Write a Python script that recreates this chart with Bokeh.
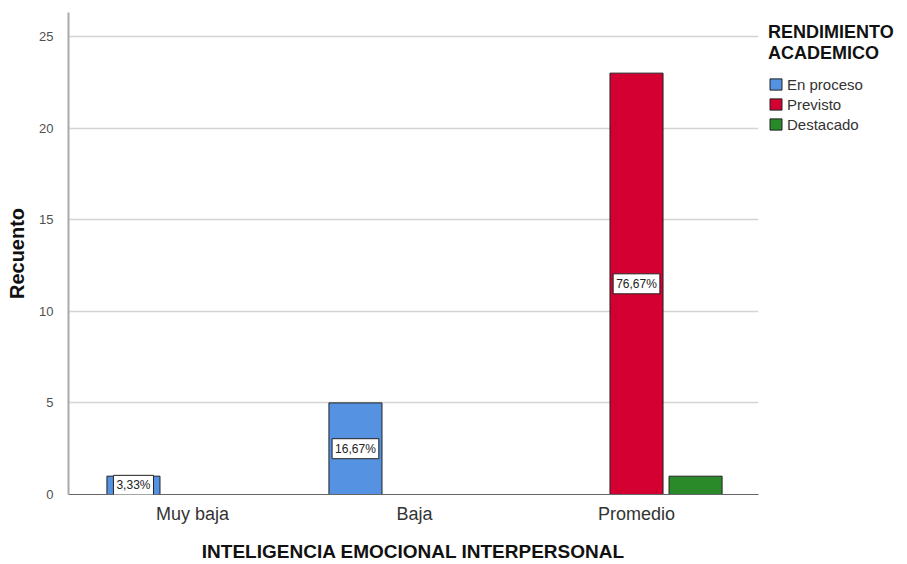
from bokeh.plotting import figure
from bokeh.models import ColumnDataSource, Legend, LegendItem, Label, Range1d, FixedTicker
from bokeh.transform import dodge
from bokeh.embed import file_html
from bokeh.resources import INLINE

categories = ["Muy baja", "Baja", "Promedio"]
series_names = ["En proceso", "Previsto", "Destacado"]
en_proceso = [1, 5, 0]
previsto = [0, 0, 23]
destacado = [0, 0, 1]
en_proceso_pct = ["3,33%", "16,67%", ""]
previsto_pct = ["", "", "76,67%"]
destacado_pct = ["", "", ""]
y_ticks = [0, 5, 10, 15, 20, 25]
legend_title = "RENDIMIENTO\nACADEMICO"

colors = ["#5593e2", "#d50032", "#2a8a2a"]
FONT = "Liberation Sans"

p = figure(frame_width=690, frame_height=482, output_backend="svg", toolbar_location=None,
           x_range=Range1d(-0.5586, 2.5495), y_range=Range1d(0, 26.31),
           min_border_left=68, min_border_right=10, min_border_top=12, min_border_bottom=10)
p.outline_line_color = None
p.background_fill_color = "white"

offsets = [-0.266, 0.0, 0.266]
vals = [en_proceso, previsto, destacado]
pcts = [en_proceso_pct, previsto_pct, destacado_pct]
renderers = []
for name, v, pc, off, col in zip(series_names, vals, pcts, offsets, colors):
    xs = [i for i, val in enumerate(v) if val > 0]
    ys = [val for val in v if val > 0]
    src = ColumnDataSource(dict(x=xs, top=ys))
    r = p.vbar(x=dodge("x", off), top="top", width=0.239, source=src,
               fill_color=col, line_color="#222222", line_width=1)
    renderers.append(r)
    for i, val in zip(xs, ys):
        if pc[i]:
            p.add_layout(Label(x=i + off, y=val / 2, text=pc[i],
                               text_align="center", text_baseline="middle",
                               text_font=FONT, text_font_size="12px", text_color="#222222",
                               background_fill_color="white", border_line_color="#222222",
                               border_line_width=1, padding=3))

# axes
p.yaxis.ticker = FixedTicker(ticks=y_ticks)
p.yaxis.axis_label = "Recuento"
p.yaxis.axis_label_text_font = FONT
p.yaxis.axis_label_text_font_style = "bold"
p.yaxis.axis_label_text_font_size = "20px"
p.yaxis.axis_label_text_color = "#111111"
p.yaxis.major_label_text_font = FONT
p.yaxis.major_label_text_font_size = "13px"
p.yaxis.major_label_text_color = "#505050"
p.yaxis.major_tick_line_color = None
p.yaxis.minor_tick_line_color = None
p.yaxis.axis_line_color = "#aaaaaa"
p.yaxis.axis_line_width = 2
p.yaxis.major_label_standoff = 9
p.yaxis.axis_label_standoff = 8

p.xaxis.ticker = FixedTicker(ticks=[0, 1, 2])
p.xaxis.major_label_overrides = {i: c for i, c in enumerate(categories)}
p.xaxis.axis_label = "INTELIGENCIA EMOCIONAL INTERPERSONAL"
p.xaxis.axis_label_text_font = FONT
p.xaxis.axis_label_text_font_style = "bold"
p.xaxis.axis_label_text_font_size = "19px"
p.xaxis.axis_label_text_color = "#111111"
p.xaxis.major_label_text_font = FONT
p.xaxis.major_label_text_font_size = "18px"
p.xaxis.major_label_text_color = "#333333"
p.xaxis.major_tick_line_color = None
p.xaxis.minor_tick_line_color = None
p.xaxis.axis_line_color = "#666666"
p.xaxis.major_label_standoff = 3
p.xaxis.axis_label_standoff = 14

p.xgrid.grid_line_color = None
p.ygrid.grid_line_color = "#d4d4d4"
p.ygrid.grid_line_width = 1.5

legend = Legend(items=[LegendItem(label=n, renderers=[r]) for n, r in zip(series_names, renderers)],
                title=legend_title, location="top_left")
legend.title_text_font = FONT
legend.title_text_font_style = "bold"
legend.title_text_font_size = "18px"
legend.title_text_color = "#111111"
legend.title_text_line_height = 1.0
legend.title_standoff = 10
legend.label_text_font = FONT
legend.label_text_font_size = "15px"
legend.label_text_color = "#333333"
legend.glyph_width = 15
legend.glyph_height = 14
legend.label_height = 20
legend.spacing = 0
legend.padding = 0
legend.margin = 10
legend.label_standoff = 4
legend.border_line_color = None
legend.background_fill_alpha = 0
p.add_layout(legend, "right")

open("out.html", "w").write(file_html(p, INLINE))
